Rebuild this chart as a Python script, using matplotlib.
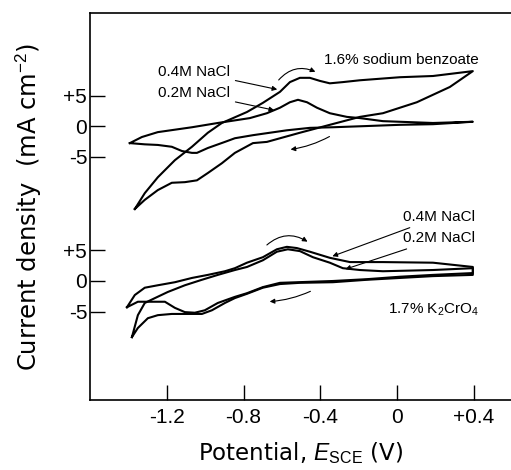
import matplotlib
matplotlib.use('Agg')
import matplotlib.pyplot as plt
import numpy as np

plt.rcParams['font.family'] = ['Liberation Sans', 'DejaVu Sans']
plt.rcParams['mathtext.fontset'] = 'custom'
plt.rcParams['mathtext.rm'] = 'Liberation Sans'
plt.rcParams['mathtext.it'] = 'Liberation Sans:italic'

# potential (V vs SCE) and current density (mA cm^-2), traced loops
# top: 1.6% sodium benzoate
benz_04_v = [-1.367, -1.315, -1.247, -1.158, -1.069, -0.986, -0.913, -0.782, -0.699, -0.610,
             -0.558, -0.506, -0.454, -0.402, -0.350, -0.282, -0.193, 0.016, 0.188, 0.396,
             0.276, 0.104, -0.073, -0.193, -0.350, -0.506, -0.678, -0.751, -0.845, -0.913,
             -0.986, -1.043, -1.106, -1.174, -1.247, -1.315, -1.367]
benz_04_i = [-13.6, -11.0, -8.4, -5.6, -3.4, -1.1, 0.5, 2.3, 3.8, 5.6,
             7.2, 7.9, 7.9, 7.4, 7.0, 7.2, 7.5, 8.0, 8.2, 9.0,
             6.4, 3.9, 2.1, 1.5, 0.2, -1.1, -2.6, -2.8, -4.4, -6.1,
             -7.7, -8.9, -9.2, -9.3, -10.5, -12.1, -13.6]
benz_02_v = [-1.393, -1.330, -1.247, -1.069, -0.934, -0.767, -0.678, -0.610, -0.558, -0.516,
             -0.469, -0.417, -0.350, -0.261, -0.193, -0.073, 0.188, 0.396,
             0.188, 0.016, -0.156, -0.334, -0.454, -0.574, -0.751, -0.845, -0.897, -0.986,
             -1.043, -1.069, -1.121, -1.174, -1.247, -1.315, -1.393]
benz_02_i = [-2.8, -1.8, -1.0, -0.2, 0.5, 1.3, 2.1, 3.0, 3.9, 4.3,
             3.9, 3.0, 2.1, 1.5, 1.3, 0.8, 0.5, 0.7,
             0.3, 0.2, 0.0, -0.2, -0.3, -0.7, -1.5, -2.0, -2.6, -3.6,
             -4.4, -4.4, -4.1, -3.4, -3.1, -3.0, -2.8]

# bottom: 1.7% K2CrO4
chro_04_v = [-1.408, -1.367, -1.315, -1.247, -1.158, -1.069, -0.986, -0.897, -0.845, -0.782,
             -0.699, -0.626, -0.574, -0.522, -0.454, -0.350, -0.245, -0.073, 0.188, 0.396,
             0.396, 0.188, 0.016, -0.156, -0.334, -0.610, -0.699, -0.782, -0.845, -0.934,
             -1.002, -1.054, -1.106, -1.158, -1.210, -1.247, -1.351, -1.408]
chro_04_i = [-4.3, -2.3, -1.1, -0.7, -0.2, 0.5, 1.0, 1.6, 2.1, 3.0,
             3.9, 5.2, 5.6, 5.4, 4.8, 3.8, 3.1, 3.1, 3.0, 2.3,
             1.3, 1.0, 0.7, 0.3, 0.0, -0.3, -1.0, -2.0, -2.6, -3.6,
             -4.8, -5.2, -5.1, -4.4, -3.4, -3.4, -3.4, -4.3]
chro_02_v = [-1.382, -1.351, -1.315, -1.262, -1.195, -1.106, -1.017, -0.934, -0.845, -0.782,
             -0.699, -0.626, -0.569, -0.506, -0.438, -0.350, -0.282, -0.193, -0.073, 0.188, 0.396,
             0.396, 0.188, 0.016, -0.156, -0.334, -0.506, -0.610, -0.699, -0.782, -0.845,
             -0.897, -0.965, -1.017, -1.106, -1.174, -1.247, -1.299, -1.351, -1.382]
chro_02_i = [-9.2, -5.6, -3.6, -2.8, -1.8, -0.7, 0.2, 1.0, 1.8, 2.3,
             3.4, 4.8, 5.2, 4.9, 3.9, 3.0, 2.1, 1.8, 1.6, 1.8, 2.1,
             1.0, 0.8, 0.5, 0.2, -0.2, -0.3, -0.5, -1.1, -2.1, -2.8,
             -3.6, -4.8, -5.4, -5.4, -5.4, -5.6, -6.1, -7.7, -9.2]

top_offset = 25.4
x_ticks = [-1.2, -0.8, -0.4, 0.0, 0.4]
x_labels = ['-1.2', '-0.8', '-0.4', '0', '+0.4']
y_ticks = [-5, 0, 5, top_offset - 5, top_offset, top_offset + 5]
y_labels = ['-5', '0', '+5', '-5', '0', '+5']

lw = 1.5
fig = plt.figure(figsize=(5.11, 4.70), dpi=100)
ax = fig.add_axes([0.176, 0.149, 0.824, 0.823])

ax.plot(benz_04_v, np.array(benz_04_i) + top_offset, c='k', lw=lw)
ax.plot(benz_02_v, np.array(benz_02_i) + top_offset, c='k', lw=lw)
ax.plot(chro_04_v, chro_04_i, c='k', lw=lw)
ax.plot(chro_02_v, chro_02_i, c='k', lw=lw)

ax.set_xlim(-1.601, 0.595)
ax.set_ylim(-19.5, 43.9)
ax.set_xticks(x_ticks)
ax.set_xticklabels(x_labels, size=15)
ax.set_yticks(y_ticks)
ax.set_yticklabels(y_labels, size=15)
ax.tick_params(axis='both', direction='in', length=11, width=1.0)
ax.tick_params(axis='y', pad=2)
ax.tick_params(axis='x', pad=6)
ax.spines['right'].set_visible(False)
for s in ['left', 'bottom', 'top']:
    ax.spines[s].set_linewidth(1.2)

ax.set_ylabel('Current density  (mA cm$^{-2}$)', size=17.5, labelpad=14,
              family='DejaVu Sans')
ax.set_xlabel('Potential, $E_{\\rm SCE}$ (V)', size=16.5, labelpad=9,
              family='DejaVu Sans')

arr = dict(arrowstyle='-|>', color='k', lw=0.8, mutation_scale=7)
fs = 11
# top annotations
ax.text(0.021, 36.2, '1.6% sodium benzoate', size=fs, ha='center', va='center')
ax.annotate('0.4M NaCl', xy=(-0.610, 31.3), xytext=(-0.871, 34.3), size=fs,
            ha='right', va='center', arrowprops=arr)
ax.annotate('0.2M NaCl', xy=(-0.626, 27.9), xytext=(-0.871, 30.8), size=fs,
            ha='right', va='center', arrowprops=arr)
ax.annotate('', xy=(-0.412, 34.1), xytext=(-0.626, 32.6),
            arrowprops=dict(arr, connectionstyle='arc3,rad=-0.4'))
ax.annotate('', xy=(-0.569, 21.5), xytext=(-0.339, 23.9),
            arrowprops=dict(arr, connectionstyle='arc3,rad=-0.1'))

# bottom annotations
ax.text(0.193, -4.8, '1.7% K$_2$CrO$_4$', size=fs, ha='center', va='center')
ax.annotate('0.4M NaCl', xy=(-0.350, 3.9), xytext=(0.031, 10.5), size=fs,
            ha='left', va='center', arrowprops=arr)
ax.annotate('0.2M NaCl', xy=(-0.282, 1.8), xytext=(0.031, 7.0), size=fs,
            ha='left', va='center', arrowprops=arr)
ax.annotate('', xy=(-0.454, 6.2), xytext=(-0.689, 5.6),
            arrowprops=dict(arr, connectionstyle='arc3,rad=-0.4'))
ax.annotate('', xy=(-0.678, -3.4), xytext=(-0.438, -1.5),
            arrowprops=dict(arr, connectionstyle='arc3,rad=-0.1'))

plt.savefig('out.png', dpi=100)
